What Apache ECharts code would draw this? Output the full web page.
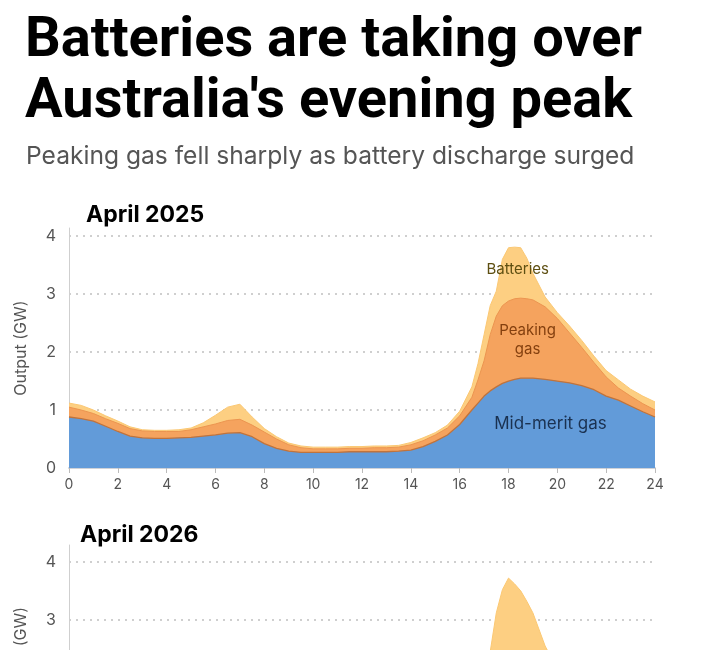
<!DOCTYPE html>
<html>
<head>
<meta charset="utf-8">
<script src="https://cdn.jsdelivr.net/npm/echarts@6/dist/echarts.min.js"></script>
<style>
  html, body { margin: 0; padding: 0; background: #fff; overflow: hidden; }
  #chart { width: 720px; height: 650px; }
</style>
</head>
<body>
<div id="chart"></div>
<script>
// hour of day (half-hourly, quarter-hourly round the evening peak)
var hours = [0,0.5,1,1.5,2,2.5,3,3.5,4,4.5,5,5.5,6,6.5,7,7.5,8,8.5,9,9.5,10,10.5,11,11.5,12,12.5,13,13.5,14,14.5,15,15.5,16,16.5,
             16.75,17,17.25,17.5,17.75,18,18.25,18.5,18.75,19,
             19.5,20,20.5,21,21.5,22,22.5,23,23.5,24];

// April 2025, GW
var midMerit25 = [0.88,0.85,0.81,0.72,0.63,0.55,0.52,0.51,0.51,0.52,0.53,0.55,0.57,0.60,0.61,0.54,0.42,0.34,0.29,0.27,0.27,0.27,0.27,0.28,0.28,0.28,0.28,0.29,0.31,0.37,0.46,0.57,0.75,1.00,
                  1.12,1.24,1.33,1.40,1.46,1.50,1.53,1.55,1.55,1.55,
                  1.53,1.50,1.47,1.42,1.35,1.24,1.17,1.07,0.97,0.88];
var peaking25  = [0.17,0.15,0.13,0.13,0.14,0.13,0.12,0.12,0.12,0.11,0.13,0.16,0.19,0.22,0.23,0.20,0.20,0.16,0.11,0.08,0.06,0.06,0.06,0.06,0.06,0.07,0.07,0.07,0.09,0.10,0.11,0.12,0.15,0.22,
                  0.40,0.61,0.97,1.22,1.34,1.38,1.39,1.38,1.37,1.35,
                  1.25,1.08,0.86,0.66,0.47,0.33,0.21,0.17,0.14,0.12];
var batteries25 = [0.07,0.08,0.06,0.05,0.04,0.03,0.02,0.02,0.02,0.03,0.03,0.07,0.15,0.23,0.26,0.14,0.06,0.04,0.03,0.03,0.03,0.03,0.03,0.03,0.03,0.03,0.03,0.03,0.04,0.05,0.04,0.05,0.08,0.18,
                   0.28,0.45,0.50,0.43,0.80,0.92,0.89,0.87,0.70,0.46,
                   0.17,0.10,0.12,0.12,0.11,0.11,0.14,0.12,0.13,0.14];

// April 2026, GW (only the top of the battery peak is in view)
var midMerit26 = [0.80,0.76,0.70,0.62,0.55,0.50,0.48,0.47,0.47,0.48,0.50,0.52,0.55,0.57,0.56,0.50,0.40,0.32,0.27,0.25,0.25,0.25,0.25,0.25,0.25,0.25,0.25,0.25,0.27,0.32,0.40,0.52,0.68,0.90,
                  1.02,1.12,1.22,1.30,1.36,1.40,1.42,1.43,1.43,1.42,
                  1.40,1.36,1.32,1.27,1.20,1.10,1.02,0.94,0.86,0.80];
var peaking26  = [0.08,0.07,0.07,0.06,0.06,0.05,0.05,0.05,0.05,0.05,0.05,0.06,0.08,0.10,0.11,0.09,0.07,0.05,0.04,0.03,0.03,0.03,0.03,0.03,0.03,0.03,0.03,0.03,0.03,0.04,0.05,0.07,0.10,0.15,
                  0.22,0.30,0.40,0.55,0.62,0.65,0.64,0.60,0.55,0.50,
                  0.40,0.32,0.26,0.21,0.17,0.14,0.12,0.10,0.09,0.08];
var batteries26 = [0.07,0.07,0.06,0.05,0.04,0.04,0.03,0.03,0.03,0.04,0.07,0.14,0.25,0.35,0.41,0.31,0.18,0.11,0.07,0.05,0.03,0.03,0.03,0.03,0.03,0.03,0.03,0.03,0.05,0.08,0.11,0.16,0.24,0.50,
                   0.61,0.68,0.83,1.27,1.54,1.67,1.56,1.47,1.34,1.20,
                   0.75,0.47,0.32,0.22,0.15,0.12,0.10,0.10,0.10,0.10];

var gridVals = [1, 2, 3, 4];
var seriesNames = ['Mid-merit gas', 'Peaking gas', 'Batteries'];
var colors = ['#629bd9', '#f5a35e', '#fdcf82'];
var edgeColors = ['#c0733c', '#ec9550', '#fbc873'];

var chart = echarts.init(document.getElementById('chart'));

// running totals: each layer is drawn down to zero, bottom layer on top
function cumulate(layers){
	var out = [], run = hours.map(function(){ return 0; });
	layers.forEach(function(vals){
		run = run.map(function(r, i){ return Math.round((r + vals[i]) * 1000) / 1000; });
		out.push(run.slice());
	});
	return out;
}

function areaSeries(idx, name, tops, k, label){
	var s = {
		name: name,
		type: 'line',
		xAxisIndex: idx,
		yAxisIndex: idx,
		showSymbol: false,
		z: 10 - k,
		data: hours.map(function(h, i){ return [h, tops[i]]; }),
		lineStyle: { color: edgeColors[k], width: k === 0 ? 1.3 : 1 },
		areaStyle: { color: colors[k], opacity: 1 },
		itemStyle: { color: colors[k] }
	};
	if (label) {
		s.markPoint = {
			symbol: 'circle',
			symbolSize: 1,
			silent: true,
			z: 30,
			itemStyle: { color: 'rgba(0,0,0,0)' },
			label: {
				show: true,
				position: 'inside',
				formatter: label.text,
				color: label.color,
				fontSize: label.size,
				lineHeight: label.size + 4,
				fontFamily: 'Inter',
				align: 'center'
			},
			data: [{ coord: label.coord }]
		};
	}
	if (k === 2) {
		s.markLine = {
			silent: true,
			z: 1,
			symbol: ['none', 'none'],
			label: { show: false },
			lineStyle: { type: [2, 5], color: '#cfcfcf', width: 2 },
			data: gridVals.map(function(v){ return { yAxis: v }; })
		};
	}
	return s;
}

function xAx(idx){
	return {
		gridIndex: idx,
		type: 'value',
		min: 0, max: 24, interval: 2,
		splitLine: { show: false },
		axisLine: { show: true, lineStyle: { color: '#cfd2d8', width: 2 } },
		axisTick: { show: true, length: 5, lineStyle: { color: '#bbb' } },
		axisLabel: { color: '#555', fontSize: 14, fontFamily: 'Inter', margin: 10 }
	};
}

function yAx(idx, max, namePad){
	return {
		gridIndex: idx,
		type: 'value',
		min: 0, max: max, interval: 1,
		name: 'Output (GW)',
		nameLocation: 'middle',
		nameGap: 40,
		nameTextStyle: { color: '#555', fontSize: 16, fontFamily: 'Inter', padding: namePad },
		splitLine: { show: false },
		axisTick: { show: false },
		axisLine: { show: true, lineStyle: { color: '#cfcfcf', width: 1 } },
		axisLabel: {
			color: '#555', fontSize: 16, fontFamily: 'Inter', margin: 13,
			formatter: function(v){ return Math.abs(v - Math.round(v)) < 1e-6 ? String(Math.round(v)) : ''; }
		}
	};
}

var tops25 = cumulate([midMerit25, peaking25, batteries25]);
var tops26 = cumulate([midMerit26, peaking26, batteries26]);

chart.setOption({
	animation: false,
	backgroundColor: '#fff',
	title: [
		{
			text: "Batteries are taking over\nAustralia's evening peak",
			left: 20, top: 6,
			textStyle: { fontFamily: 'Roboto', fontWeight: 'bold', fontSize: 56, lineHeight: 61, color: '#000' }
		},
		{
			text: 'Peaking gas fell sharply as battery discharge surged',
			left: 21, top: 139,
			textStyle: { fontFamily: 'Inter', fontWeight: 'normal', fontSize: 24.6, color: '#555' }
		},
		{
			text: 'April 2025',
			left: 81, top: 199,
			textStyle: { fontFamily: 'Inter', fontWeight: 'bold', fontSize: 23, color: '#000' }
		},
		{
			text: 'April 2026',
			left: 75, top: 519,
			textStyle: { fontFamily: 'Inter', fontWeight: 'bold', fontSize: 23, color: '#000' }
		}
	],
	grid: [
		{ left: 69, width: 586, top: 228, height: 240, outerBoundsMode: 'none' },
		{ left: 69, width: 586, top: 545, height: 249, outerBoundsMode: 'none' }
	],
	xAxis: [xAx(0), xAx(1)],
	yAxis: [yAx(0, 4.14, 0), yAx(1, 4.29, [0, 0, 0, 30])],
	series: [
		areaSeries(0, seriesNames[2], tops25[2], 2, { text: 'Batteries', color: '#5e4f12', size: 15, coord: [18.38, 3.43] }),
		areaSeries(0, seriesNames[1], tops25[1], 1, { text: 'Peaking\ngas', color: '#84400f', size: 15, coord: [18.78, 2.21] }),
		areaSeries(0, seriesNames[0], tops25[0], 0, { text: 'Mid-merit gas', color: '#1a3150', size: 17, coord: [19.72, 0.76] }),
		areaSeries(1, seriesNames[2], tops26[2], 2),
		areaSeries(1, seriesNames[1], tops26[1], 1),
		areaSeries(1, seriesNames[0], tops26[0], 0)
	]
});

window.onresize = function(){
	chart.resize();
};
</script>
</body>
</html>
